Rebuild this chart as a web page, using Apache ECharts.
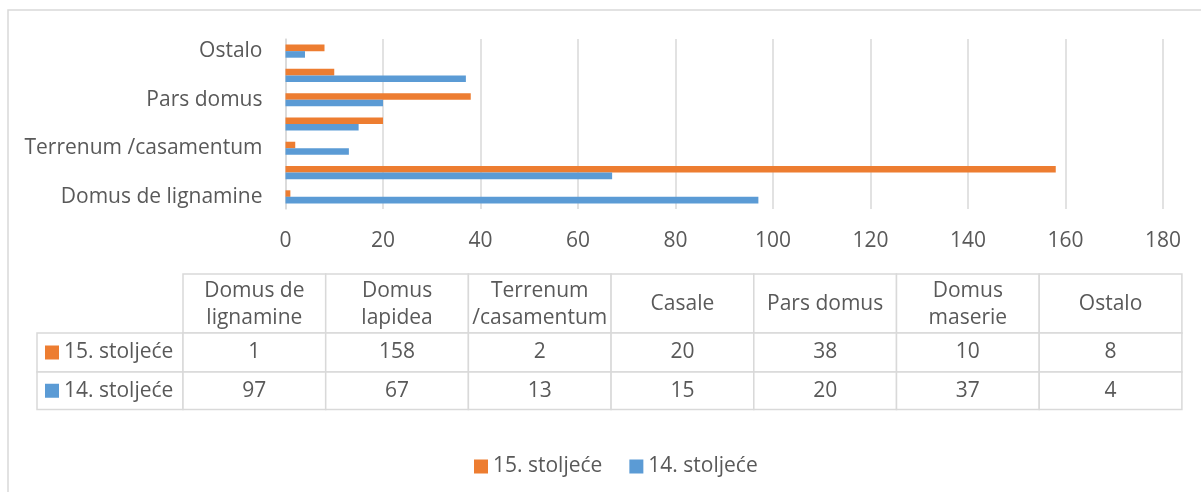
<!DOCTYPE html>
<html>
<head>
<meta charset="utf-8">
<script src="https://cdn.jsdelivr.net/npm/echarts@6/dist/echarts.min.js"></script>
<style>
  html, body { margin: 0; padding: 0; background: #fff; }
  #main { width: 1201px; height: 492px; }
</style>
</head>
<body>
<div id="main"></div>
<script>
// podaci
var categories = ['Domus de lignamine', 'Domus lapidea', 'Terrenum /casamentum', 'Casale', 'Pars domus', 'Domus maserie', 'Ostalo'];
var headerLabels = ['Domus de\nlignamine', 'Domus\nlapidea', 'Terrenum\n/casamentum', 'Casale', 'Pars domus', 'Domus\nmaserie', 'Ostalo'];
var seriesNames = ['15. stoljeće', '14. stoljeće'];
var values15 = [1, 158, 2, 20, 38, 10, 8];
var values14 = [97, 67, 13, 15, 20, 37, 4];
var colors = ['#ED7D31', '#5B9BD5'];
var xMin = 0, xMax = 180, xStep = 20;

var font = 'Open Sans';
var fontSize = 21;
var textColor = '#595959';
var lineColor = '#d9d9d9';

var myChart = echarts.init(document.getElementById('main'));

// tablica ispod grafa
function buildTable() {
    var left = 37, colStart = 183, colW = 142.7;
    var rowTops = [274, 333, 372, 409.5];
    var els = [];
    var rows = [values15, values14];

    // zaglavlje
    headerLabels.forEach(function (lab, i) {
        var x = colStart + i * colW;
        els.push({
            type: 'rect',
            shape: { x: x, y: rowTops[0], width: colW, height: rowTops[1] - rowTops[0] },
            style: { fill: '#fff', stroke: lineColor, lineWidth: 1.5 }
        });
        els.push({
            type: 'text',
            x: x + colW / 2,
            y: (rowTops[0] + rowTops[1]) / 2 + 1,
            style: {
                text: lab, fontFamily: font, fontSize: fontSize, lineHeight: 27,
                fill: textColor, align: 'center', verticalAlign: 'middle'
            }
        });
    });

    rows.forEach(function (vals, r) {
        var y0 = rowTops[r + 1], y1 = rowTops[r + 2];
        var cy = (y0 + y1) / 2;
        els.push({
            type: 'rect',
            shape: { x: left, y: y0, width: colStart - left, height: y1 - y0 },
            style: { fill: '#fff', stroke: lineColor, lineWidth: 1.5 }
        });
        els.push({
            type: 'rect',
            shape: { x: 45, y: cy - 7, width: 14, height: 14 },
            style: { fill: colors[r] }
        });
        els.push({
            type: 'text',
            x: 64, y: cy,
            style: {
                text: seriesNames[r], fontFamily: font, fontSize: fontSize,
                fill: textColor, align: 'left', verticalAlign: 'middle'
            }
        });
        vals.forEach(function (v, i) {
            var x = colStart + i * colW;
            els.push({
                type: 'rect',
                shape: { x: x, y: y0, width: colW, height: y1 - y0 },
                style: { fill: '#fff', stroke: lineColor, lineWidth: 1.5 }
            });
            els.push({
                type: 'text',
                x: x + colW / 2, y: cy,
                style: {
                    text: String(v), fontFamily: font, fontSize: fontSize,
                    fill: textColor, align: 'center', verticalAlign: 'middle'
                }
            });
        });
    });
    return els;
}

var option = {
    animation: false,
    textStyle: { fontFamily: font },
    graphic: [{
        type: 'rect',
        z: -10,
        shape: { x: 8, y: 10, width: 1220, height: 520 },
        style: { fill: '#fff', stroke: lineColor, lineWidth: 1.5 }
    }].concat(buildTable()),
    legend: {
        data: seriesNames,
        top: 451,
        left: 469,
        icon: 'rect',
        itemWidth: 14,
        itemHeight: 14,
        itemGap: 27,
        textStyle: { color: textColor, fontSize: fontSize, fontFamily: font }
    },
    grid: {
        left: 285.5,
        right: 38,
        top: 39,
        bottom: 283
    },
    xAxis: {
        type: 'value',
        min: xMin,
        max: xMax,
        interval: xStep,
        axisLine: { show: false },
        axisTick: { show: false },
        axisLabel: { color: textColor, fontSize: fontSize, fontFamily: font, margin: 22 },
        splitLine: { lineStyle: { color: lineColor, width: 1.5 } }
    },
    yAxis: {
        type: 'category',
        data: categories,
        axisLine: { show: true, lineStyle: { color: lineColor, width: 1.5 } },
        axisTick: { show: false },
        axisLabel: { interval: 1, color: textColor, fontSize: fontSize, fontFamily: font, margin: 23 }
    },
    series: [{
        name: seriesNames[0],
        type: 'bar',
        data: values15,
        barGap: '0%',
        barCategoryGap: '46%',
        itemStyle: { color: colors[0] }
    }, {
        name: seriesNames[1],
        type: 'bar',
        data: values14,
        barGap: '0%',
        barCategoryGap: '46%',
        itemStyle: { color: colors[1] }
    }]
};

myChart.setOption(option);
window.addEventListener('resize', function () {
    myChart.resize();
});
</script>
</body>
</html>
